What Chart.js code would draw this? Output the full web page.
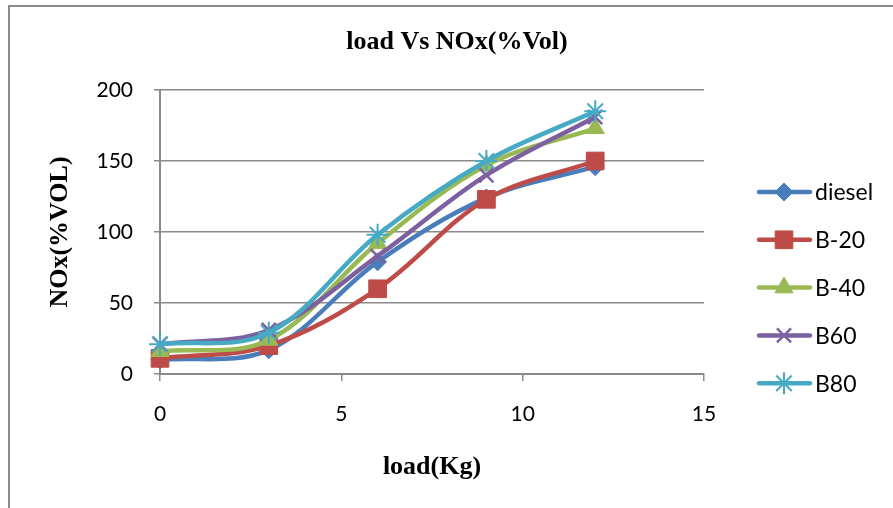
<!DOCTYPE html>
<html>
<head>
<meta charset="utf-8">
<script src="https://cdn.jsdelivr.net/npm/chart.js@4.4.0/dist/chart.umd.min.js"></script>
<style>
  html, body { margin: 0; padding: 0; background: #fff; }
  #wrap { width: 893px; height: 508px; }
</style>
</head>
<body>
<div id="wrap"><canvas id="noxChart" width="893" height="508"></canvas></div>
<script>
// load (Kg) vs NOx readings
const loads = [0, 3, 6, 9, 12];
const diesel = [10, 17, 79, 124, 146];
const b20 = [11, 20, 60, 123, 150];
const b40 = [16, 24, 92, 147, 173];
const b60 = [21, 31, 83, 140, 181];
const b80 = [21, 29, 98, 150, 185];

const seriesNames = ["diesel", "B-20", "B-40", "B60", "B80"];
const xTicks = [0, 5, 10, 15];
const yTicks = [0, 50, 100, 150, 200];

const chartTitle = "load Vs NOx(%Vol)";
const xTitle = "load(Kg)";
const yTitle = "NOx(%VOL)";

const colors = ["#4a7ebb", "#be4b48", "#98b954", "#7d60a0", "#46aac5"];
const markers = [
  { style: "rectRot", radius: 9, width: 1 },
  { style: "rect", radius: 12.5, width: 1 },
  { style: "triangle", radius: 10.5, width: 1 },
  { style: "crossRot", radius: 10, width: 2.5 },
  { style: "star", radius: 11, width: 2 },
];

const toPoints = (ys) => loads.map((x, i) => ({ x: x, y: ys[i] }));
const allValues = [diesel, b20, b40, b60, b80];

const datasets = allValues.map((vals, i) => ({
  label: seriesNames[i],
  data: toPoints(vals),
  borderColor: colors[i],
  backgroundColor: colors[i],
  borderWidth: 4.5,
  tension: 0.35,
  pointStyle: markers[i].style,
  pointRadius: markers[i].radius,
  pointHoverRadius: markers[i].radius,
  pointBorderWidth: markers[i].width,
  pointBackgroundColor: colors[i],
  pointBorderColor: colors[i],
  order: allValues.length - i,
  clip: false,
}));

// outer frame, title and the legend on the right
const decorPlugin = {
  id: "decor",
  beforeDraw(chart) {
    const ctx = chart.ctx;
    ctx.save();
    ctx.strokeStyle = "#8c8c8c";
    ctx.lineWidth = 2;
    ctx.beginPath();
    ctx.moveTo(9, 508);
    ctx.lineTo(9, 6);
    ctx.lineTo(893, 6);
    ctx.stroke();
    ctx.restore();
  },
  afterDraw(chart) {
    const ctx = chart.ctx;
    ctx.save();
    ctx.fillStyle = "#000";
    ctx.font = "bold 26px 'Liberation Serif', 'Times New Roman', serif";
    ctx.textAlign = "center";
    ctx.textBaseline = "middle";
    ctx.fillText(chartTitle, 457, 42);

    chart.data.datasets.forEach((ds, i) => {
      const y = 192 + i * 47.8;
      ctx.strokeStyle = ds.borderColor;
      ctx.lineWidth = 4.5;
      ctx.lineCap = "round";
      ctx.beginPath();
      ctx.moveTo(759, y);
      ctx.lineTo(810, y);
      ctx.stroke();
      ctx.lineCap = "butt";
      ctx.fillStyle = ds.pointBackgroundColor;
      ctx.strokeStyle = ds.pointBorderColor;
      ctx.lineWidth = ds.pointBorderWidth;
      Chart.helpers.drawPoint(ctx, {
        pointStyle: ds.pointStyle,
        radius: ds.pointRadius,
        borderWidth: ds.pointBorderWidth,
        rotation: 0,
      }, 784, y);
      ctx.fillStyle = "#000";
      ctx.font = "23px Lato, 'Open Sans', sans-serif";
      ctx.textAlign = "left";
      ctx.fillText(ds.label, 815, y + 1);
    });
    ctx.restore();
  },
};

const gridGray = "#8a8a8a";
const tickFont = { family: "Lato, 'Open Sans', sans-serif", size: 21 };
const titleFont = { family: "'Liberation Serif', 'Times New Roman', serif", size: 26, weight: "bold" };

new Chart(document.getElementById("noxChart").getContext("2d"), {
  type: "line",
  data: { datasets: datasets },
  options: {
    responsive: false,
    animation: false,
    events: [],
    layout: { padding: { left: 10, right: 189, top: 90, bottom: 0 } },
    plugins: {
      legend: { display: false },
      title: { display: false },
      tooltip: { enabled: false },
    },
    scales: {
      x: {
        type: "linear",
        min: xTicks[0],
        max: xTicks[xTicks.length - 1],
        afterBuildTicks: (s) => { s.ticks = xTicks.map((v) => ({ value: v })); },
        afterFit: (s) => { s.height = 134; },
        grid: { drawOnChartArea: false, drawTicks: true, tickLength: 7, color: gridGray, lineWidth: 1.5 },
        border: { color: gridGray, width: 2 },
        ticks: { color: "#000", font: tickFont, padding: 21, maxRotation: 0 },
        title: { display: true, text: xTitle, color: "#000", font: titleFont, padding: { top: 0, bottom: 25 } },
      },
      y: {
        min: yTicks[0],
        max: yTicks[yTicks.length - 1],
        afterBuildTicks: (s) => { s.ticks = yTicks.map((v) => ({ value: v })); },
        afterFit: (s) => { s.width = 150; },
        grid: { color: gridGray, lineWidth: 1.5, tickLength: 6 },
        border: { color: gridGray, width: 2 },
        ticks: { color: "#000", font: tickFont, padding: 21 },
        title: { display: true, text: yTitle, color: "#000", font: titleFont, padding: { top: 35, bottom: 0 } },
      },
    },
  },
  plugins: [decorPlugin],
});
</script>
</body>
</html>
